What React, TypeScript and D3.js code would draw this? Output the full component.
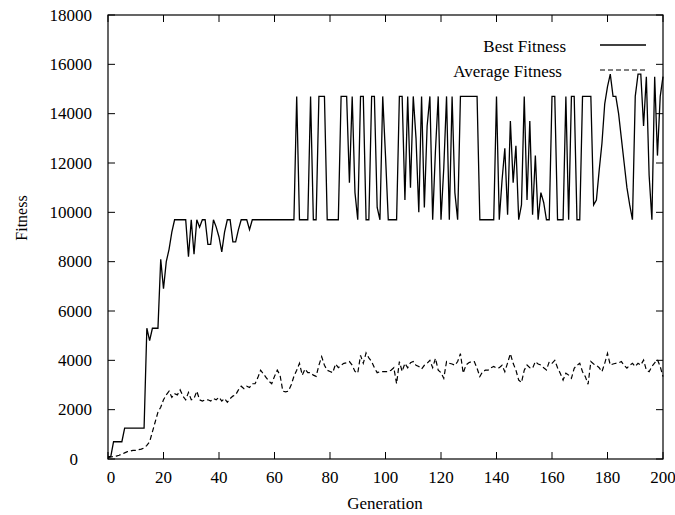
import React from "react";
import * as d3 from "d3";

// best fitness per generation (gen 0..200)
const bestFitness = [
  100, 100, 700, 700, 700, 700, 1250, 1250, 1250, 1250,
  1250, 1250, 1250, 1250, 5300, 4800, 5300, 5300, 5300, 8100,
  6900, 8000, 8500, 9200, 9700, 9700, 9700, 9700, 9700, 8200,
  9700, 8300, 9700, 9400, 9700, 9700, 8700, 8700, 9700, 9400,
  9000, 8400, 9200, 9700, 9700, 8800, 8800, 9300, 9700, 9700,
  9700, 9300, 9700, 9700, 9700, 9700, 9700, 9700, 9700, 9700,
  9700, 9700, 9700, 9700, 9700, 9700, 9700, 9700, 14700, 9700,
  9700, 9700, 9700, 14700, 9700, 9700, 14700, 14700, 14700, 9700,
  9700, 9700, 9700, 9700, 14700, 14700, 14700, 11200, 14700, 10800,
  9700, 14700, 14700, 9700, 9700, 14700, 14700, 10200, 9700, 14700,
  12300, 9700, 9700, 9700, 9700, 14700, 14700, 10500, 14700, 11000,
  14700, 13000, 10000, 14700, 10200, 13500, 14700, 9700, 12500, 14700,
  9700, 11800, 14700, 9700, 14700, 10800, 9700, 14700, 14700, 14700,
  14700, 14700, 14700, 14700, 9700, 9700, 9700, 9700, 9700, 9700,
  14700, 9700, 11300, 12600, 9900, 13700, 11200, 12700, 9700, 10300,
  14700, 10500, 13700, 9900, 12300, 9700, 10800, 10400, 9700, 9700,
  14700, 14700, 9700, 9700, 9700, 14700, 9700, 14700, 14700, 9700,
  9700, 14700, 14700, 14700, 14700, 10300, 10500, 11700, 12800, 14400,
  15100, 15600, 14700, 14700, 14000, 13000, 12000, 11000, 10300, 9700,
  14700, 15600, 15600, 13500, 15500, 11500, 9700, 15500, 12300, 14700,
  15500,
];

// average fitness per generation (gen 0..200)
const avgFitness = [
  50, 80, 100, 120, 150, 200, 250, 300, 320, 350,
  350, 380, 400, 450, 550, 700, 1100, 1500, 1900, 2100,
  2400, 2600, 2750, 2500, 2650, 2600, 2800, 2550, 2400, 2700,
  2400, 2450, 2750, 2400, 2350, 2400, 2400, 2350, 2450, 2400,
  2500, 2350, 2450, 2300, 2450, 2550, 2600, 2800, 2950, 2850,
  2950, 2900, 3050, 3050, 3300, 3600, 3450, 3300, 3150, 3050,
  3350, 3600, 3400, 2750, 2720, 2750, 3000, 3350, 3600, 3880,
  3400, 3650, 3500, 3500, 3400, 3350, 3800, 4150, 3800, 3600,
  3550, 3500, 3850, 3700, 3800, 3880, 3900, 3950, 3800, 3550,
  3480, 4200, 3880, 4300, 4100, 3950, 3700, 3500, 3540, 3540,
  3540, 3540, 3600, 3700, 3050, 3950, 3550, 3880, 3700, 3900,
  3950, 3800, 3750, 3650, 3800, 3880, 4000, 3700, 4080, 3600,
  3500, 3270, 3950, 3880, 3850, 3800, 3950, 4270, 3480, 3810,
  3900, 3950, 3950, 3680, 3340, 3540, 3600, 3600, 3700, 3750,
  3680, 3700, 3800, 3540, 3900, 4270, 3880, 3600, 3200, 3100,
  3600, 3810, 3700, 3680, 3950, 3850, 3810, 3700, 3610, 3940,
  3880, 4000, 3700, 3470, 3200, 3480, 3400, 3270, 3680, 3800,
  3880, 3540, 3340, 3030, 3950, 3850, 3800, 3700, 3540, 3880,
  4280, 3810, 3850, 3880, 3900, 3950, 3800, 3680, 3800, 3880,
  3750, 3880, 3810, 4010, 3600, 3540, 3750, 3900, 4020, 3750,
  3340,
];

const xTicks = [0, 20, 40, 60, 80, 100, 120, 140, 160, 180, 200];
const yTicks = [0, 2000, 4000, 6000, 8000, 10000, 12000, 14000, 16000, 18000];
const seriesNames = ["Best Fitness", "Average Fitness"];

const box = { left: 108, right: 663, top: 15, bottom: 459 };
const tickLen = 7;

const App = () => {
  const x = d3.scaleLinear().domain([0, 200]).range([box.left, box.right]);
  const y = d3.scaleLinear().domain([0, 18000]).range([box.bottom, box.top]);

  const line = d3
    .line<number>()
    .x((d, i) => x(i))
    .y((d) => y(d));

  const txt = { fontFamily: "Liberation Serif", fontSize: "17px" };

  return (
    <svg
      width={675}
      height={515}
      style={{ position: "absolute", left: 0, top: 0, background: "#fff" }}
    >
      <rect x={0} y={0} width={675} height={515} fill="#fff" />

      {/* series */}
      <path d={line(bestFitness) || ""} fill="none" stroke="#000" strokeWidth={1.3} />
      <path
        d={line(avgFitness) || ""}
        fill="none"
        stroke="#000"
        strokeWidth={1.2}
        strokeDasharray="5,3"
      />

      {/* border */}
      <rect
        x={box.left}
        y={box.top}
        width={box.right - box.left}
        height={box.bottom - box.top}
        fill="none"
        stroke="#000"
        strokeWidth={1.2}
      />

      {/* y ticks, mirrored */}
      {yTicks.map((d) => (
        <g key={"y" + d}>
          <line x1={box.left} x2={box.left + tickLen} y1={y(d)} y2={y(d)} stroke="#000" />
          <line x1={box.right} x2={box.right - tickLen} y1={y(d)} y2={y(d)} stroke="#000" />
          <text
            style={txt}
            x={d === 0 ? 78 : 92}
            y={y(d)}
            textAnchor="end"
            dominantBaseline="central"
          >
            {d}
          </text>
        </g>
      ))}

      {/* x ticks, mirrored */}
      {xTicks.map((d) => (
        <g key={"x" + d}>
          <line x1={x(d)} x2={x(d)} y1={box.bottom} y2={box.bottom - tickLen} stroke="#000" />
          <line x1={x(d)} x2={x(d)} y1={box.top} y2={box.top + tickLen} stroke="#000" />
          <text style={txt} x={x(d) + (d === 0 ? 3 : 0)} y={483} textAnchor="middle">
            {d}
          </text>
        </g>
      ))}

      {/* axis titles */}
      <text style={txt} x={385} y={509} textAnchor="middle">
        Generation
      </text>
      <text
        style={{ ...txt, fontSize: "16px" }}
        transform="translate(27,218) rotate(-90)"
        textAnchor="middle"
      >
        Fitness
      </text>

      {/* key */}
      <text style={txt} x={566} y={52} textAnchor="end">
        {seriesNames[0]}
      </text>
      <line x1={600} x2={646} y1={45} y2={45} stroke="#000" strokeWidth={1.3} />
      <text style={txt} x={562} y={77} textAnchor="end">
        {seriesNames[1]}
      </text>
      <line
        x1={600}
        x2={646}
        y1={70}
        y2={70}
        stroke="#000"
        strokeWidth={1.2}
        strokeDasharray="5,3"
      />
    </svg>
  );
};

export default App;
